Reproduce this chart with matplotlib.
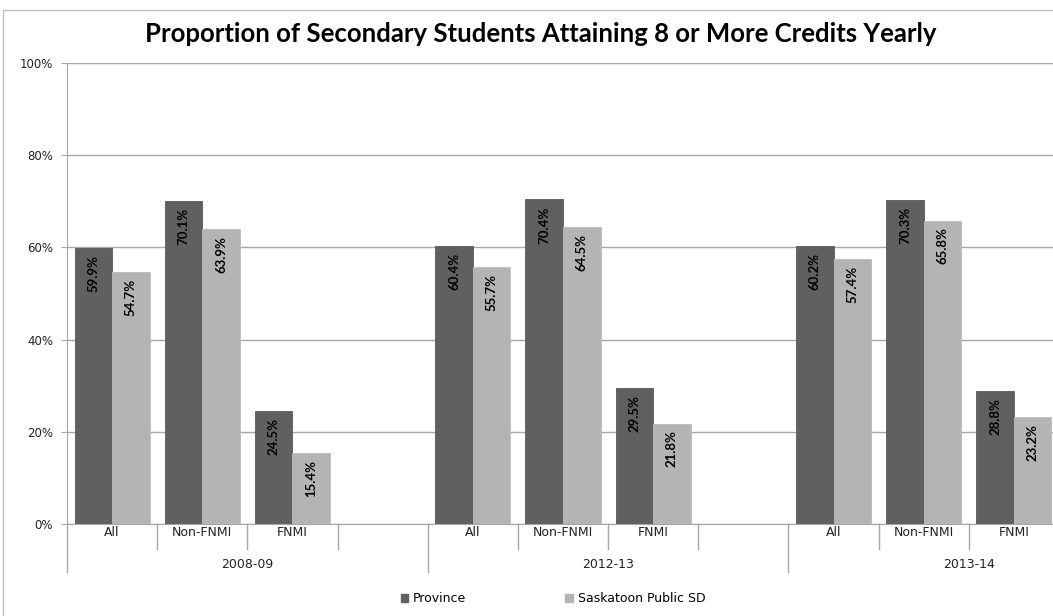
import numpy as np
import matplotlib
matplotlib.use('Agg')
import matplotlib.pyplot as plt
from matplotlib.patches import Patch, Rectangle
from matplotlib.transforms import blended_transform_factory

years = ['2008-09', '2012-13', '2013-14']
groups = ['All', 'Non-FNMI', 'FNMI']
series_names = ['Province', 'Saskatoon Public SD']
province = [59.9, 70.1, 24.5, 60.4, 70.4, 29.5, 60.2, 70.3, 28.8]
saskatoon = [54.7, 63.9, 15.4, 55.7, 64.5, 21.8, 57.4, 65.8, 23.2]
yticks = [0, 20, 40, 60, 80, 100]

dark = '#606060'
light = '#b4b4b4'
grid = '#a6a6a6'
narrow = ['Lato', 'DejaVu Sans']

# each year gets 3 category slots + one empty slot (excel layout)
slot = []
for i in range(len(years)):
    for j in range(len(groups)):
        slot.append(i * 4 + j)
slot = np.array(slot)
nslots = len(years) * 4 - 1

fig = plt.figure(figsize=(10.53, 6.16), dpi=100)
fig.patches.append(Rectangle((3 / 1053, -0.1), 1.2, 1 - 10 / 616 + 0.1,
                             transform=fig.transFigure, fill=False,
                             edgecolor='#bfbfbf', lw=1))

ax = fig.add_axes([67 / 1053, 92 / 616, 992 / 1053, 461 / 616])
w = 0.416
ax.bar(slot - w / 2, province, w, color=dark, edgecolor='#585858', lw=0.6, zorder=3)
ax.bar(slot + w / 2, saskatoon, w, color=light, edgecolor='#bcbcbc', lw=0.6, zorder=3)

for x, v in zip(slot - w / 2, province):
    ax.annotate(f'{v:.1f}%', (x, v), xytext=(0, -5), textcoords='offset points',
                rotation=90, ha='center', va='top', fontsize=9.5,
                fontweight='bold', family=narrow, zorder=4)
for x, v in zip(slot + w / 2, saskatoon):
    ax.annotate(f'{v:.1f}%', (x, v), xytext=(0, -5), textcoords='offset points',
                rotation=90, ha='center', va='top', fontsize=9.5,
                fontweight='bold', family=narrow, zorder=4)

ax.set_xlim(-0.5, nslots - 0.5)
ax.set_ylim(0, 100)
ax.set_yticks(yticks)
ax.set_yticklabels([f'{t}%' for t in yticks], fontsize=8.5, color='#222222')
ax.tick_params(axis='y', length=4, color=grid, pad=6)
ax.set_xticks([])
ax.yaxis.grid(True, color=grid, lw=1)
ax.set_axisbelow(True)
for s in ['top', 'right']:
    ax.spines[s].set_visible(False)
ax.spines['left'].set_color(grid)
ax.spines['bottom'].set_color(grid)

# multi-level category axis
tr = blended_transform_factory(ax.transData, ax.transAxes)
for k in range(nslots + 1):
    b = k - 0.5
    low = -0.104 if k % 4 == 0 else -0.054
    ax.plot([b, b], [0, low], transform=tr, clip_on=False, color=grid, lw=1)
for i, x in enumerate(slot):
    ax.text(x, -0.0174, groups[i % 3], transform=tr, ha='center', va='center',
            fontsize=9, color='#222222')
for i, yr in enumerate(years):
    ax.text(i * 4 + 1.5, -0.0868, yr, transform=tr, ha='center', va='center',
            fontsize=9, color='#222222')

fig.text(541 / 1053, 1 - 34 / 616,
         'Proportion of Secondary Students Attaining 8 or More Credits Yearly',
         ha='center', va='center', fontsize=18.5, fontweight='bold', family=narrow)

handles = [Patch(color=dark), Patch(color=light)]
fig.legend(handles, series_names, loc='center', bbox_to_anchor=(553 / 1053, 1 - 599 / 616),
           ncol=2, frameon=False, fontsize=9, handlelength=0.6, handleheight=0.6,
           handletextpad=0.4, columnspacing=7.9)

fig.savefig('out.png', dpi=100)
